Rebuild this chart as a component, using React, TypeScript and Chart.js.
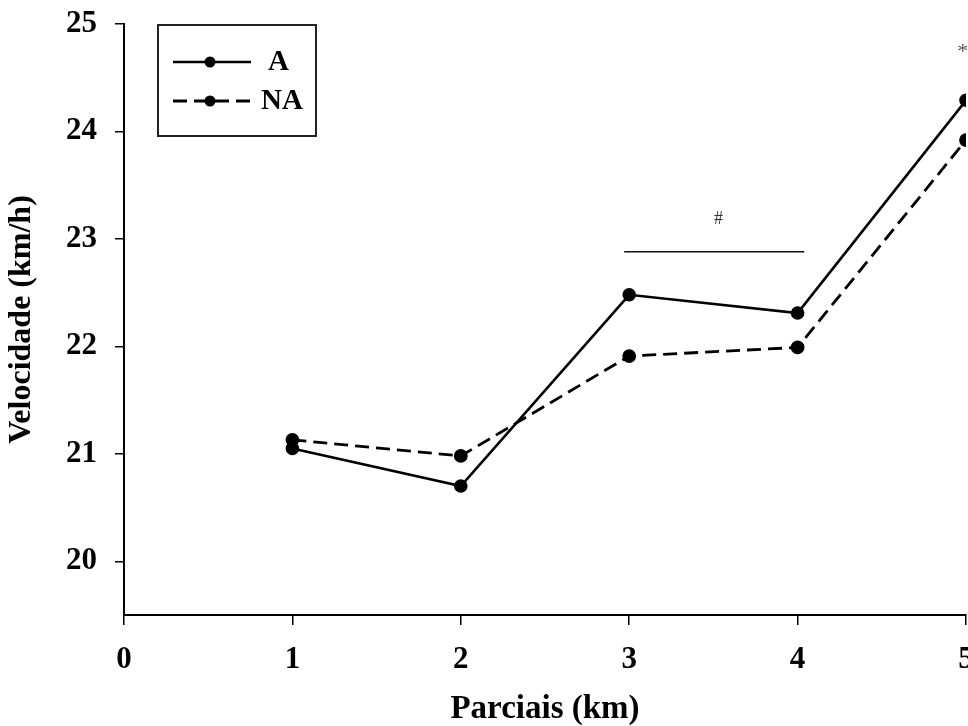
import React, { useEffect, useRef } from "react";
import { Chart, registerables } from "chart.js";

Chart.register(...registerables);

// ---- data ----
const parciais = [1, 2, 3, 4, 5];
const serieA = [21.05, 20.7, 22.48, 22.31, 24.29];
const serieNA = [21.13, 20.98, 21.91, 21.99, 23.92];
const seriesLabels = ["A", "NA"];
const xTitle = "Parciais (km)";
const yTitle = "Velocidade (km/h)";
const xMin = 0;
const xMax = 5;
const yMin = 19.5;
const yMax = 25;
const sigBarX = [2.97, 4.04];
const sigBarY = [22.88, 22.88];
const sigMarkText = ["#", "*"];
const sigMarkX = [3.53, 4.98];
const sigMarkY = [23.18, 24.74];

const SERIF = "'Liberation Serif', 'Times New Roman', Times, serif";

const overlayPlugin = {
  id: "overlayPlugin",
  afterDatasetsDraw(chart: any) {
    const { ctx, scales } = chart;
    const xs = scales.x;
    const ys = scales.y;
    ctx.save();
    // significance marks
    sigMarkText.forEach((t, i) => {
      ctx.font = `${i === 0 ? 18 : 22}px ${SERIF}`;
      ctx.fillStyle = i === 0 ? "#333" : "#556";
      ctx.textAlign = "center";
      ctx.textBaseline = "middle";
      ctx.fillText(t, xs.getPixelForValue(sigMarkX[i]), ys.getPixelForValue(sigMarkY[i]));
    });
    // legend box
    ctx.strokeStyle = "#222";
    ctx.lineWidth = 2;
    ctx.setLineDash([]);
    ctx.strokeRect(158, 25, 158, 111);
    chart.data.datasets.slice(0, 2).forEach((ds: any, i: number) => {
      const y = 62 + i * 39;
      ctx.beginPath();
      ctx.setLineDash(ds.borderDash || []);
      ctx.lineWidth = ds.borderWidth;
      ctx.strokeStyle = ds.borderColor;
      ctx.moveTo(173, y);
      ctx.lineTo(251, y);
      ctx.stroke();
      ctx.setLineDash([]);
      ctx.beginPath();
      ctx.fillStyle = ds.pointBackgroundColor;
      ctx.arc(210, y, 5.5, 0, Math.PI * 2);
      ctx.fill();
      ctx.font = `bold 29px ${SERIF}`;
      ctx.fillStyle = "#000";
      ctx.textAlign = "left";
      ctx.textBaseline = "middle";
      ctx.fillText(ds.label, i === 0 ? 268 : 261, y + 1);
    });
    ctx.restore();
  },
};

export default function App() {
  const ref = useRef<HTMLCanvasElement | null>(null);

  useEffect(() => {
    if (!ref.current) return;
    const chart = new Chart(ref.current, {
      type: "line",
      data: {
        datasets: [
          {
            label: seriesLabels[0],
            data: parciais.map((x, i) => ({ x, y: serieA[i] })),
            borderColor: "#000",
            borderWidth: 2.6,
            pointRadius: 5.5,
            pointBackgroundColor: "#000",
            pointBorderColor: "#000",
            tension: 0,
            fill: false,
          },
          {
            label: seriesLabels[1],
            data: parciais.map((x, i) => ({ x, y: serieNA[i] })),
            borderColor: "#000",
            borderWidth: 2.8,
            borderDash: [14, 7],
            pointRadius: 5.5,
            pointBackgroundColor: "#000",
            pointBorderColor: "#000",
            tension: 0,
            fill: false,
          },
          {
            label: "sig",
            data: sigBarX.map((x, i) => ({ x, y: sigBarY[i] })),
            borderColor: "#111",
            borderWidth: 1.5,
            pointRadius: 0,
            fill: false,
          },
        ],
      },
      options: {
        responsive: false,
        animation: false,
        layout: { autoPadding: false, padding: { top: 24, right: 2, bottom: 0, left: 0 } },
        plugins: {
          legend: { display: false },
          tooltip: { enabled: false },
        },
        scales: {
          x: {
            type: "linear",
            min: xMin,
            max: xMax,
            ticks: {
              stepSize: 1,
              autoSkip: false,
              maxRotation: 0,
              color: "#000",
              padding: 19,
              font: { family: SERIF, size: 31, weight: "bold", lineHeight: 1 },
            },
            grid: {
              drawOnChartArea: false,
              drawTicks: true,
              tickLength: 10,
              color: "#000",
              lineWidth: 1.5,
            },
            border: { color: "#000", width: 2 },
            title: {
              display: true,
              text: xTitle,
              color: "#000",
              font: { family: SERIF, size: 33, weight: "bold", lineHeight: 1 },
              padding: { top: 0, bottom: 0 },
            },
            afterFit: (s: any) => {
              s.height = 726 - 615;
              s.paddingLeft = 0;
              s.paddingRight = 0;
            },
          },
          y: {
            type: "linear",
            min: yMin,
            max: yMax,
            ticks: {
              stepSize: 1,
              includeBounds: false,
              color: "#000",
              padding: 18,
              font: { family: SERIF, size: 31, weight: "bold", lineHeight: 1 },
            },
            grid: {
              drawOnChartArea: false,
              drawTicks: true,
              tickLength: 9,
              color: "#000",
              lineWidth: 1.5,
            },
            border: { color: "#000", width: 2 },
            title: {
              display: true,
              text: yTitle,
              color: "#000",
              font: { family: SERIF, size: 32, weight: "bold", lineHeight: 1 },
              padding: { top: 6, bottom: 0 },
            },
            afterFit: (s: any) => {
              s.width = 124;
              s.paddingTop = 0;
              s.paddingBottom = 0;
            },
          },
        },
      },
      plugins: [overlayPlugin],
    });
    return () => chart.destroy();
  }, []);

  return (
    <div
      style={{
        position: "absolute",
        left: 0,
        top: 0,
        width: 968,
        height: 726,
        overflow: "hidden",
        background: "#fff",
      }}
    >
      <canvas ref={ref} width={968} height={726} style={{ display: "block" }} />
    </div>
  );
}
